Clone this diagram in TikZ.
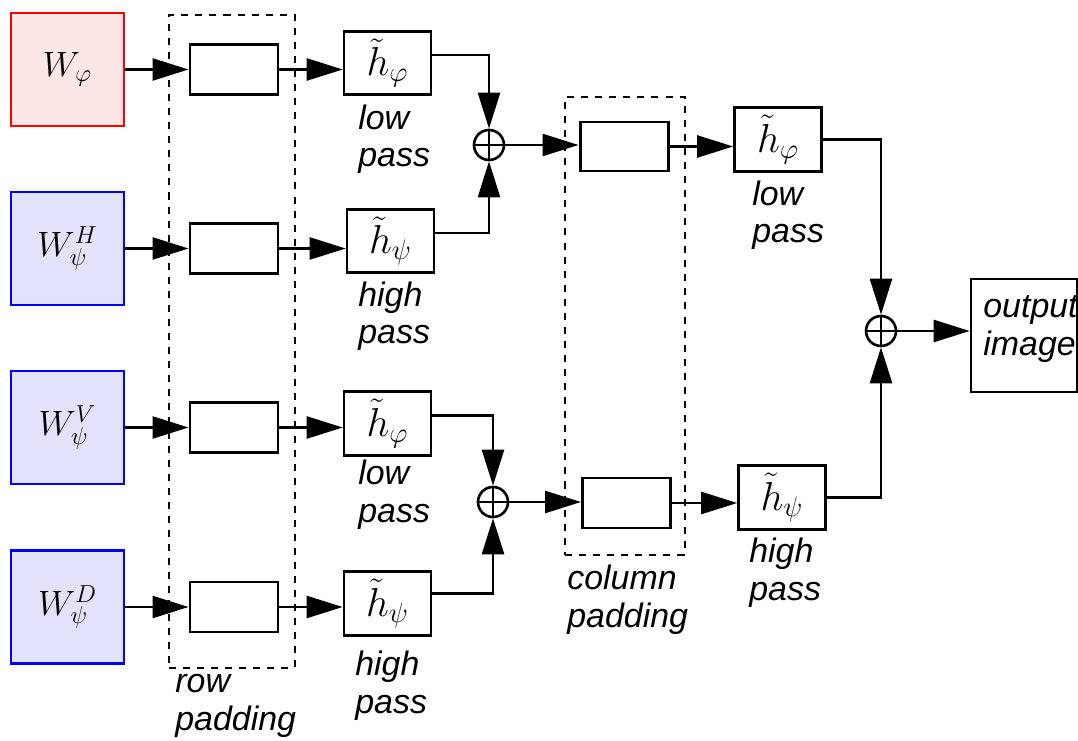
\documentclass[tikz,border=0pt]{standalone}
\usepackage{fix-cm}
\usepackage{fontspec}
\setsansfont{Liberation Sans}
\usepackage{xcolor}
\usetikzlibrary{arrows.meta}
\definecolor{approxfill}{RGB}{253,230,230}
\definecolor{detailfill}{RGB}{226,226,250}

\begin{document}
\begin{tikzpicture}[
  lbl/.style={font=\fontsize{19.3}{21.6}\selectfont\sffamily\itshape, align=left, anchor=base west, inner sep=0pt},
  coef/.style={draw, line width=1.5pt, minimum width=2.26cm, minimum height=2.26cm, font=\fontsize{20}{24}\selectfont},
  padbox/.style={draw, line width=1.7pt, minimum width=1.76cm, minimum height=1cm},
  filt/.style={draw, line width=1.5pt, minimum width=1.74cm, minimum height=1.27cm, inner sep=1pt, font=\fontsize{23}{27}\selectfont},
  sumnode/.style={circle, draw, line width=1.5pt, minimum size=0.6cm, inner sep=0pt,
    path picture={\draw[line width=1.2pt] (path picture bounding box.north) -- (path picture bounding box.south)
      (path picture bounding box.west) -- (path picture bounding box.east);}},
  conn/.style={line width=1.4pt, -{Triangle[length=7.2mm,width=4.4mm]}},
  dashbox/.style={draw, dash pattern=on 4pt off 4pt, line width=1.1pt}
]
\useasboundingbox (0,0) rectangle (21.56,14.8);
% padding stages
\node[dashbox, minimum width=2.52cm, minimum height=13.06cm] (rowpad) at (4.64,7.97) {};
\node[dashbox, minimum width=2.4cm, minimum height=9.16cm] (colpad) at (12.5,8.28) {};
% wavelet coefficients
\node[coef, draw=red, fill=approxfill] (wphi) at (1.35,13.41) {$W_{\varphi}$};
\node[coef, draw=blue, fill=detailfill] (wh) at (1.35,9.83) {$W_{\psi}^{H}$};
\node[coef, draw=blue, fill=detailfill] (wv) at (1.35,6.25) {$W_{\psi}^{V}$};
\node[coef, draw=blue, fill=detailfill] (wd) at (1.35,2.66) {$W_{\psi}^{D}$};
% row stage
\node[padbox] (rp1) at (4.68,13.41) {};
\node[padbox] (rp2) at (4.68,9.83) {};
\node[padbox] (rp3) at (4.68,6.25) {};
\node[padbox] (rp4) at (4.68,2.66) {};
\node[filt] (hr1) at (7.75,13.54) {$\tilde{h}_{\varphi}$};
\node[filt] (hr2) at (7.81,9.98) {$\tilde{h}_{\psi}$};
\node[filt] (hr3) at (7.75,6.33) {$\tilde{h}_{\varphi}$};
\node[filt] (hr4) at (7.75,2.73) {$\tilde{h}_{\psi}$};
\node[sumnode] (s1) at (9.78,11.9) {};
\node[sumnode] (s2) at (9.86,4.76) {};
% column stage
\node[padbox, minimum height=0.98cm] (cp1) at (12.48,11.87) {};
\node[padbox] (cp2) at (12.53,4.74) {};
\node[filt] (hc1) at (15.56,12.01) {$\tilde{h}_{\varphi}$};
\node[filt] (hc2) at (15.64,4.85) {$\tilde{h}_{\psi}$};
\node[sumnode] (s3) at (17.62,8.18) {};
\node[draw, line width=1.5pt, minimum width=2.12cm, minimum height=2.26cm] (out) at (20.48,8.09) {};
% labels (anchored on the last line)
\node[lbl] (l1) at (7.16,11.46) {low\\pass};
\node[lbl] (l2) at (7.16,7.92) {high\\pass};
\node[lbl] (l3) at (7.16,4.36) {low\\pass};
\node[lbl] (l4) at (7.10,0.54) {high\\pass};
\node[lbl] (l5) at (15.04,9.94) {low\\pass};
\node[lbl] (l6) at (14.98,2.8) {high\\pass};
\node[lbl] (l7) at (11.34,2.26) {column\\padding};
\node[lbl] (l8) at (3.5,0.2) {row\\padding};
\node[lbl] (l9) at (19.66,7.7) {output\\image};
% connectors
\draw[conn] (wphi.east) -- (rp1.west);
\draw[conn] (wh.east) -- (rp2.west);
\draw[conn] (wv.east) -- (rp3.west);
\draw[conn] (wd.east) -- (rp4.west);
\draw[conn] (rp1.east) -- (rp1.east -| hr1.west);
\draw[conn] (rp2.east) -- (rp2.east -| hr2.west);
\draw[conn] (rp3.east) -- (rp3.east -| hr3.west);
\draw[conn] (rp4.east) -- (rp4.east -| hr4.west);
\draw[conn] ([yshift=0.16cm]hr1.east) -| (s1.north);
\draw[conn] ([yshift=0.16cm]hr2.east) -| (s1.south);
\draw[conn] ([yshift=0.16cm]hr3.east) -| (s2.north);
\draw[conn] ([yshift=0.2cm]hr4.east) -| (s2.south);
\draw[conn] (s1.east) -- (s1.east -| cp1.west);
\draw[conn] (s2.east) -- (s2.east -| cp2.west);
\draw[conn] (cp1.east) -- (cp1.east -| hc1.west);
\draw[conn] (cp2.east) -- (cp2.east -| hc2.west);
\draw[conn] (hc1.east) -| (s3.north);
\draw[conn] (hc2.east) -| (s3.south);
\draw[conn] (s3.east) -- (s3.east -| out.west);
\end{tikzpicture}
\end{document}
